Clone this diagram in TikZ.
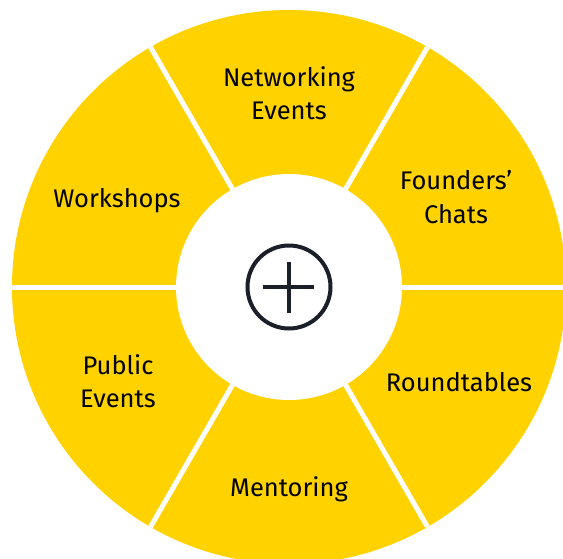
\documentclass[tikz,border=0pt]{standalone}
\usepackage{fontspec}
\setmainfont{Fira Sans}
\definecolor{ringyellow}{HTML}{FFD200}
\definecolor{iconnavy}{HTML}{1B1F2A}

\begin{document}
\begin{tikzpicture}[
      x=1pt, y=1pt,
      ring/.style={fill=ringyellow},
      gap/.style={draw=white,line width=5pt},
      hole/.style={fill=white},
      label text/.style={align=center,text=black,font=\fontsize{25.5}{33.5}\selectfont},
      icon/.style={draw=iconnavy,line width=4pt}
      ]
      \useasboundingbox (-289,-271) rectangle (274,287);
      % ring
      \fill [ring] (0,0) circle (277);
      % gaps between segments
      \foreach \a in {0,60,...,300} {
          \draw [gap] (0,0) -- (\a:277);
      }
      % centre
      \fill [hole] (0,0) circle (113);
      % labels
      \foreach \x/\y/\n/\t in {0/194/networking/Networking\\Events,
          167/90/founders/Founders’\\Chats,
          170/-95/roundtables/Roundtables,
          0/-202/mentoring/Mentoring,
          -171/-94/public/Public\\Events,
          -172/86/workshops/Workshops} {
          \node [label text] (\n) at (\x,\y) {\t};
      }
      % plus icon
      \node [circle,icon,minimum size=83pt,inner sep=0pt] (plus) at (0,0) {};
      \draw [icon] (plus.center) ++(-25.5,0) -- ++(51,0);
      \draw [icon] (plus.center) ++(0,-25.5) -- ++(0,51);
    \end{tikzpicture}
\end{document}
